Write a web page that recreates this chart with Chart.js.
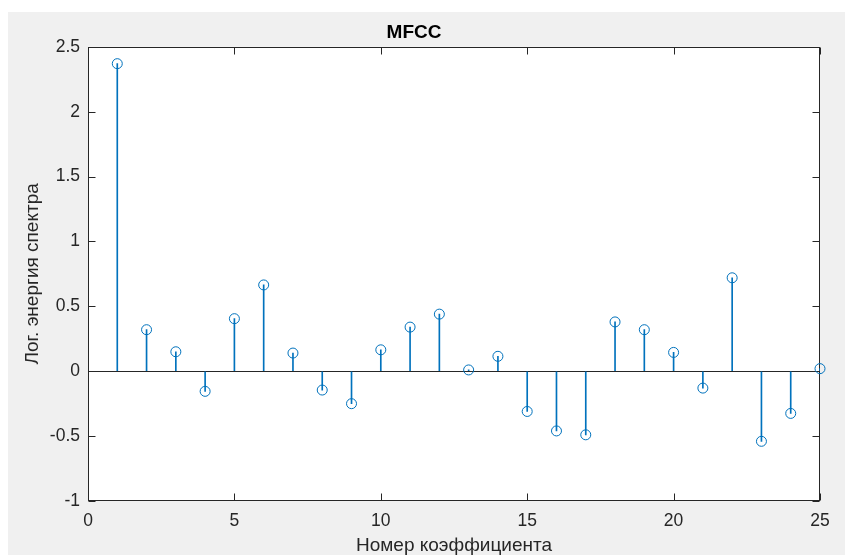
<!DOCTYPE html>
<html>
<head>
<meta charset="utf-8">
<script src="https://cdn.jsdelivr.net/npm/chart.js@4.4.1/dist/chart.umd.min.js"></script>
<style>
  html, body { margin: 0; padding: 0; background: #ffffff; overflow: hidden; }
  #wrap { width: 845px; height: 555px; }
</style>
</head>
<body>
<div id="wrap"><canvas id="c" width="845" height="555"></canvas></div>
<script>
// MFCC coefficients of one frame (stem plot)
const coeffIndex = [1, 2, 3, 4, 5, 6, 7, 8, 9, 10, 11, 12, 13, 14, 15, 16, 17, 18, 19, 20, 21, 22, 23, 24, 25];
const mfccValues = [2.37, 0.32, 0.15, -0.155, 0.405, 0.665, 0.14, -0.145, -0.25, 0.165, 0.34, 0.44,
                    0.01, 0.115, -0.31, -0.46, -0.49, 0.38, 0.32, 0.145, -0.13, 0.72, -0.54, -0.325, 0.02];
const xTickValues = [0, 5, 10, 15, 20, 25];
const yTickValues = [-1, -0.5, 0, 0.5, 1, 1.5, 2, 2.5];
const chartTitle = 'MFCC';
const xAxisLabel = 'Номер коэффициента';
const yAxisLabel = 'Лог. энергия спектра';

const FONT = "'Liberation Sans', Arial, Helvetica, sans-serif";
const STEM_COLOR = '#0072BD';
const AXIS_COLOR = '#262626';
const TICK_LEN = 7;

const points = coeffIndex.map((x, i) => ({ x: x, y: mfccValues[i] }));

// figure background, axes box and inward ticks on all four sides
const frame = {
  id: 'frame',
  beforeDraw(chart) {
    const { ctx, chartArea: a } = chart;
    ctx.save();
    ctx.fillStyle = '#ffffff';
    ctx.fillRect(0, 0, chart.width, chart.height);
    ctx.fillStyle = '#f0f0f0';
    ctx.fillRect(8, 12, chart.width - 8, chart.height - 12);
    ctx.fillStyle = '#ffffff';
    ctx.fillRect(a.left, a.top, a.right - a.left, a.bottom - a.top);
    ctx.restore();
  },
  beforeDatasetsDraw(chart) {
    const { ctx, chartArea: a, scales } = chart;
    const L = Math.round(a.left) + 0.5, R = Math.round(a.right) - 0.5;
    const T = Math.round(a.top) + 0.5, B = Math.round(a.bottom) - 0.5;
    ctx.save();
    ctx.strokeStyle = AXIS_COLOR;
    ctx.lineWidth = 1;
    ctx.beginPath();
    xTickValues.forEach(v => {
      const px = Math.round(scales.x.getPixelForValue(v)) + 0.5;
      ctx.moveTo(px, B); ctx.lineTo(px, B - TICK_LEN);
      ctx.moveTo(px, T); ctx.lineTo(px, T + TICK_LEN);
    });
    yTickValues.forEach(v => {
      const py = Math.round(scales.y.getPixelForValue(v)) + 0.5;
      ctx.moveTo(L, py); ctx.lineTo(L + TICK_LEN, py);
      ctx.moveTo(R, py); ctx.lineTo(R - TICK_LEN, py);
    });
    ctx.stroke();
    ctx.strokeRect(L, T, R - L, B - T);
    ctx.restore();
  }
};

new Chart(document.getElementById('c'), {
  data: {
    datasets: [
      {
        // stems
        type: 'bar',
        order: 2,
        data: points,
        backgroundColor: STEM_COLOR,
        borderWidth: 0,
        barThickness: 1,
        grouped: false
      },
      {
        // hollow circle markers
        type: 'scatter',
        order: 1,
        data: points,
        showLine: false,
        pointStyle: 'circle',
        pointRadius: 5,
        pointBorderWidth: 1,
        pointBorderColor: STEM_COLOR,
        pointBackgroundColor: 'rgba(0,0,0,0)',
        clip: false
      }
    ]
  },
  options: {
    responsive: false,
    animation: false,
    devicePixelRatio: 1,
    layout: { padding: { top: 12, left: 8, right: 25, bottom: 0 } },
    plugins: {
      legend: { display: false },
      tooltip: { enabled: false },
      title: {
        display: true,
        text: chartTitle,
        color: '#000000',
        font: { family: FONT, size: 19, weight: 'bold' },
        padding: { top: 9, bottom: 3 }
      }
    },
    scales: {
      x: {
        type: 'linear',
        offset: false,
        min: 0, max: 25,
        afterBuildTicks: s => { s.ticks = xTickValues.map(v => ({ value: v })); },
        afterFit: s => { s.height = 54; },
        grid: { display: false, drawTicks: false, offset: false },
        border: { display: false },
        ticks: { color: AXIS_COLOR, padding: 9.5, maxRotation: 0, autoSkip: false,
                 callback: v => String(v),
                 font: { family: FONT, size: 17.5 } },
        title: { display: true, text: xAxisLabel, color: AXIS_COLOR,
                 font: { family: FONT, size: 19 }, padding: { top: 0, bottom: -2 } }
      },
      y: {
        type: 'linear',
        min: -1, max: 2.5,
        afterBuildTicks: s => { s.ticks = yTickValues.map(v => ({ value: v })); },
        afterFit: s => { s.width = 80; },
        grid: {
          drawTicks: false,
          color: c => (c.tick && c.tick.value === 0 ? AXIS_COLOR : 'rgba(0,0,0,0)'),
          lineWidth: 1
        },
        border: { display: false },
        ticks: { color: AXIS_COLOR, padding: 8, autoSkip: false,
                 callback: v => String(v),
                 font: { family: FONT, size: 17.5 } },
        title: { display: true, text: yAxisLabel, color: AXIS_COLOR,
                 font: { family: FONT, size: 19 }, padding: { top: 13.6, bottom: 0 } }
      }
    }
  },
  plugins: [frame]
});
</script>
</body>
</html>
